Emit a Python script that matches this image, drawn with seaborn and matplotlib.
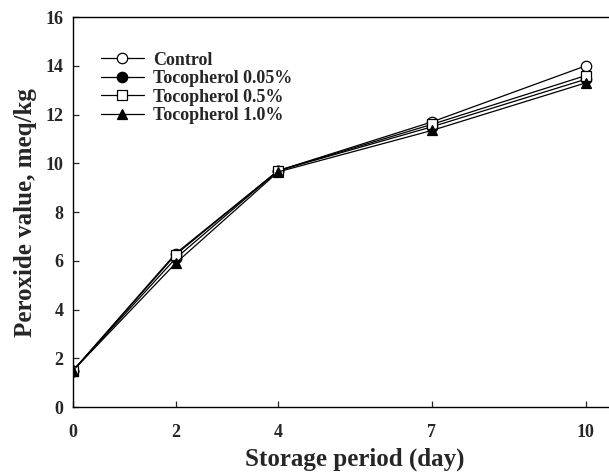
import pandas as pd
import seaborn as sns
import matplotlib.pyplot as plt

days = [0, 2, 4, 7, 10]
control = [1.5, 6.3, 9.7, 11.7, 14.0]
toco_005 = [1.5, 6.1, 9.7, 11.5, 13.45]
toco_05 = [1.5, 6.25, 9.7, 11.6, 13.6]
toco_10 = [1.5, 5.9, 9.65, 11.35, 13.3]

series = [
    ('Control', control, 'o', 'white'),
    ('Tocopherol 0.05%', toco_005, 'o', 'black'),
    ('Tocopherol 0.5%', toco_05, 's', 'white'),
    ('Tocopherol 1.0%', toco_10, '^', 'black'),
]

sns.set_theme(style="ticks")
plt.rcParams['font.family'] = ['Liberation Serif', 'DejaVu Serif']
plt.rcParams['font.weight'] = 'bold'

fig = plt.figure(figsize=(6.09, 4.75), dpi=100)
ax = fig.add_axes([0.120, 0.143, 0.926, 0.821])

for name, vals, m, fc in series:
    df = pd.DataFrame({'day': days, 'pv': vals})
    sns.lineplot(data=df, x='day', y='pv', ax=ax, color='black', linewidth=0.9,
                 marker=m, markersize=7.5, markerfacecolor=fc,
                 markeredgecolor='black', markeredgewidth=0.9, label=name)

ax.set_xlim(0, 11)
ax.set_ylim(0, 16)
ax.set_xticks(days)
ax.set_yticks(range(0, 17, 2))
ax.tick_params(direction='in', length=4, width=0.9, labelsize=13)
ax.tick_params(axis='x', pad=12)
ax.tick_params(axis='y', pad=7)
for lab in ax.get_xticklabels() + ax.get_yticklabels():
    lab.set_fontweight('bold')
ax.spines['right'].set_visible(False)
for s in ax.spines.values():
    s.set_linewidth(1.0)
    s.set_color('black')

ax.set_xlabel('Storage period (day)', fontsize=18, fontweight='bold', labelpad=5)
ax.set_ylabel('Peroxide value, meq/kg', fontsize=18, fontweight='bold', labelpad=6)

ax.legend(loc='upper left', bbox_to_anchor=(0.02, 0.953), frameon=False,
          handlelength=2.4, handletextpad=0.5, labelspacing=0.08,
          prop={'weight': 'bold', 'size': 13})

fig.savefig('out.png', dpi=100)
